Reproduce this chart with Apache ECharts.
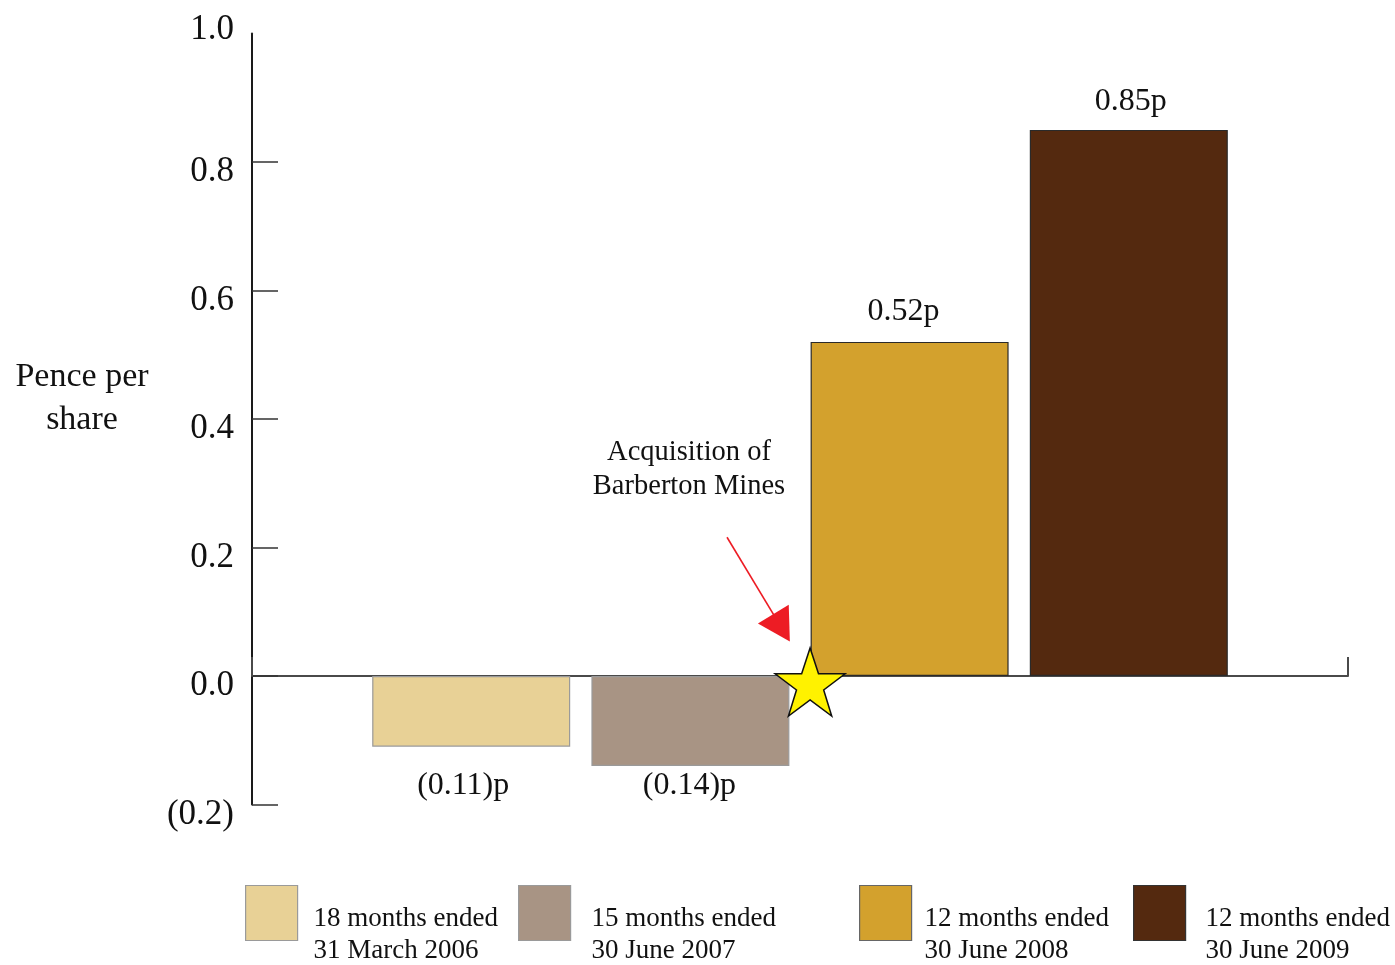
<!DOCTYPE html>
<html>
<head>
<meta charset="utf-8">
<title>Pence per share</title>
<script src="https://cdn.jsdelivr.net/npm/echarts@6/dist/echarts.min.js"></script>
<style>
  html, body { margin: 0; padding: 0; background: #ffffff; }
  #chart { width: 1395px; height: 965px; }
</style>
</head>
<body>
<div id="chart"></div>
<script>
// Reporting periods and earnings per share (pence)
const periods = [
  '18 months ended\n31 March 2006',
  '15 months ended\n30 June 2007',
  '12 months ended\n30 June 2008',
  '12 months ended\n30 June 2009'
];
const pencePerShare = [-0.11, -0.14, 0.52, 0.85];
const periodPositions = [1, 2, 3, 4];
const barColors = ['#E8D196', '#A89484', '#D3A12D', '#54290F'];
const barBorders = ['#9a9a9a', '#9a9a9a', '#2a2a2a', '#2a2a2a'];
const legendBorders = ['#9a9a9a', '#9a9a9a', '#666666', '#333333'];
const yTicks = [-0.2, 0, 0.2, 0.4, 0.6, 0.8];

// Acquisition marker and arrow, in data space
const acquisitionStar = [2.546, -0.0093];
const arrowFrom = [2.167, 0.216];
const arrowTo = [2.416, 0.075];

const FONT = '"Liberation Serif", "DejaVu Serif", serif';
const TEXT = '#111111';

// value label placement: negative labels share one line under the bars
const labelDistance = [23, 4, 14, 12];
const labelShift = [-8, -1, -6, 2];
const legendLefts = [245, 518, 859, 1133];
const legendTextGaps = [11, 16, 8, 15];

function fmtValue(v) {
  return v < 0 ? '(' + Math.abs(v).toFixed(2) + ')p' : v.toFixed(2) + 'p';
}

const starPath = 'path://M50,0 L61.8,35.1 L98.9,35.1 L69,57.3 L80.2,92.7 L50,70.9 L19.8,92.7 L31,57.3 L1.1,35.1 L38.2,35.1 Z';

const series = periods.map(function (name, i) {
  const v = pencePerShare[i];
  return {
    name: name,
    type: 'bar',
    barWidth: 198,
    barGap: '-100%',
    data: [[periodPositions[i], v]],
    itemStyle: { color: barColors[i], borderColor: barBorders[i], borderWidth: 1.2 },
    label: {
      show: true,
      position: v < 0 ? 'bottom' : 'top',
      distance: labelDistance[i],
      offset: [labelShift[i], 0],
      formatter: function (p) { return fmtValue(p.value[1]); },
      fontFamily: FONT,
      fontSize: 32,
      color: TEXT
    },
    z: 2
  };
});

series.push({
  name: 'acquisition',
  type: 'scatter',
  data: [acquisitionStar],
  symbol: starPath,
  symbolSize: [70, 68],
  itemStyle: { color: '#FFF200', borderColor: '#111', borderWidth: 1.5, opacity: 1 },
  z: 5,
  silent: true,
  markLine: {
    silent: true,
    symbol: ['none', 'triangle'],
    symbolSize: [36, 32],
    lineStyle: { color: '#ED1C24', width: 1.6, type: 'solid' },
    itemStyle: { color: '#ED1C24' },
    label: { show: false },
    data: [[{ coord: arrowFrom }, { coord: arrowTo }]]
  }
});

// one legend block per period, spaced as in the report layout
const legends = periods.map(function (name, i) {
  return {
    data: [name],
    left: legendLefts[i],
    top: 876,
    padding: 0,
    orient: 'horizontal',
    icon: 'rect',
    itemWidth: 52,
    itemHeight: 55,
    selectedMode: false,
    itemStyle: { borderColor: legendBorders[i], borderWidth: 1.2 },
    formatter: function (n) {
      const lines = n.split('\n');
      return '{gap| }\n{t|' + lines[0] + '}\n{t|' + lines[1] + '}';
    },
    textStyle: {
      padding: [0, 0, 0, legendTextGaps[i]],
      rich: {
        gap: { fontSize: 10, lineHeight: 44 },
        t: { fontFamily: FONT, fontSize: 27, lineHeight: 32, color: TEXT }
      }
    }
  };
});

const chart = echarts.init(document.getElementById('chart'), null, { renderer: 'canvas' });

chart.setOption({
  animation: false,
  backgroundColor: '#ffffff',
  grid: { left: 252, right: 47, top: 33.5, bottom: 160.5, containLabel: false },
  legend: legends,
  xAxis: {
    type: 'value',
    min: 0,
    max: 5,
    interval: 5,
    axisLine: { onZero: true, lineStyle: { color: '#4a4a4a', width: 2 } },
    axisTick: { show: true, inside: true, length: 19, lineStyle: { color: '#4a4a4a', width: 2 } },
    axisLabel: { show: false },
    splitLine: { show: false }
  },
  yAxis: {
    type: 'value',
    min: -0.2,
    max: 1.0,
    interval: 0.2,
    axisLine: { show: true, lineStyle: { color: '#1a1a1a', width: 2 } },
    axisTick: {
      show: true,
      inside: true,
      length: 26,
      customValues: yTicks,
      lineStyle: { color: '#333', width: 1.5 }
    },
    axisLabel: {
      margin: 18,
      formatter: function (v) {
        const s = v < 0 ? '(' + Math.abs(v).toFixed(1) + ')' : v.toFixed(1);
        return v > 0.95 ? '{top|' + s + '}' : '{n|' + s + '}';
      },
      rich: {
        n: { fontFamily: FONT, fontSize: 35, color: TEXT, padding: [20, 0, 0, 0] },
        top: { fontFamily: FONT, fontSize: 35, color: TEXT, padding: [0, 0, 8, 0] }
      }
    },
    splitLine: { show: false }
  },
  graphic: [
    {
      type: 'text',
      x: 82,
      y: 355.5,
      style: {
        text: 'Pence per\nshare',
        align: 'center',
        textAlign: 'center',
        verticalAlign: 'top',
        textVerticalAlign: 'top',
        fontFamily: FONT,
        fontSize: 34,
        lineHeight: 43,
        fill: TEXT
      }
    },
    {
      type: 'text',
      x: 689,
      y: 436,
      style: {
        text: 'Acquisition of\nBarberton Mines',
        align: 'center',
        textAlign: 'center',
        verticalAlign: 'top',
        textVerticalAlign: 'top',
        fontFamily: FONT,
        fontSize: 28.5,
        lineHeight: 34,
        fill: TEXT
      }
    }
  ],
  series: series
});
</script>
</body>
</html>
